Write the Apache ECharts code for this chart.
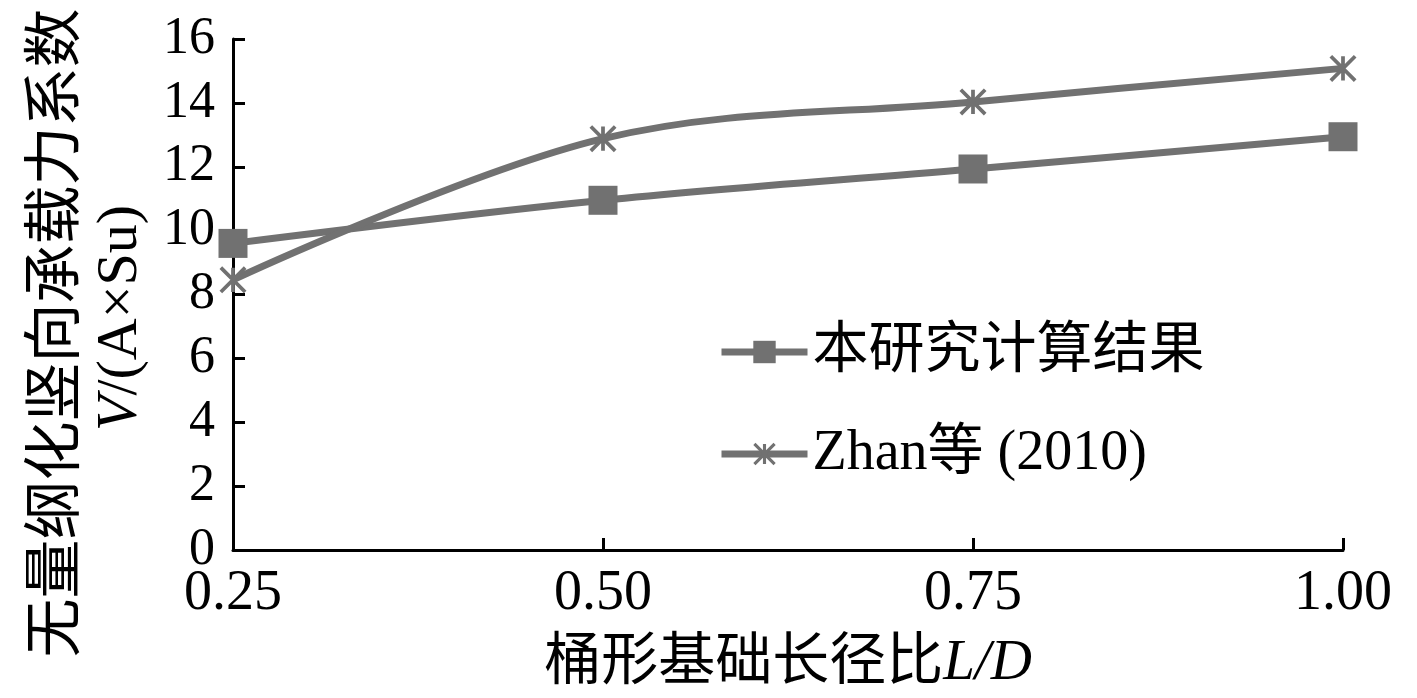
<!DOCTYPE html>
<html>
<head>
<meta charset="utf-8">
<script src="https://cdn.jsdelivr.net/npm/echarts@6/dist/echarts.min.js"></script>
<style>
html, body { margin: 0; padding: 0; background: #fff; }
#main { width: 1417px; height: 698px; }
</style>
</head>
<body>
<div id="main"></div>
<script>
// L/D 取值
var ratioLD = [0.25, 0.50, 0.75, 1.00];
// 本研究计算结果
var oursValues = [9.6, 10.95, 11.93, 12.94];
// Zhan等 (2010)
var zhanValues = [8.46, 12.88, 14.03, 15.08];
var seriesNames = ['本研究计算结果', 'Zhan等 (2010)'];
var yTicks = [0, 2, 4, 6, 8, 10, 12, 14, 16];

var serif = '"Liberation Serif", "Times New Roman", "Noto Sans CJK SC", serif';
var gray = '#717171';

function pairs(vals) {
	return vals.map(function(v, i) {
		return [ratioLD[i], v];
	});
}

// 星号标记: 竖线 + X, 用填充的细长矩形拼出
var starPath = 'path://M-2,-13L2,-13L2,13L-2,13Z' +
	'M-11.586,-14.414L14.414,11.586L11.586,14.414L-14.414,-11.586Z' +
	'M-14.414,11.586L11.586,-14.414L14.414,-11.586L-11.586,14.414Z';

var option = {
	animation: false,
	backgroundColor: '#fff',
	grid: {
		left: 233,
		right: 74,
		top: 39,
		bottom: 144
	},
	legend: {
		orient: 'vertical',
		left: 713,
		top: 316,
		itemWidth: 86,
		itemHeight: 28,
		itemGap: 40,
		lineStyle: { width: 7 },
		textStyle: {
			fontFamily: serif,
			fontSize: 56,
			lineHeight: 62,
			color: '#000'
		},
		data: seriesNames
	},
	xAxis: {
		type: 'value',
		min: 0.25,
		max: 1.0,
		interval: 0.25,
		name: '{a|桶形基础长径比}{b|L/D}',
		nameLocation: 'middle',
		nameGap: 86,
		nameTextStyle: {
			rich: {
				a: { fontFamily: serif, fontSize: 57, color: '#000' },
				b: { fontFamily: serif, fontSize: 57, fontStyle: 'italic', color: '#000' }
			}
		},
		axisLine: { lineStyle: { color: '#000', width: 3 } },
		axisTick: { inside: true, length: 12, lineStyle: { color: '#000', width: 3 } },
		axisLabel: {
			margin: 16,
			fontFamily: serif,
			fontSize: 56,
			color: '#000',
			formatter: function(v) { return v.toFixed(2); }
		},
		splitLine: { show: false }
	},
	yAxis: {
		type: 'value',
		min: yTicks[0],
		max: yTicks[yTicks.length - 1],
		interval: 2,
		axisLine: { show: true, lineStyle: { color: '#000', width: 3 } },
		axisTick: { show: true, inside: true, length: 12, lineStyle: { color: '#000', width: 3 } },
		axisLabel: {
			margin: 18,
			fontFamily: serif,
			fontSize: 52,
			color: '#000'
		},
		splitLine: { show: false }
	},
	graphic: [{
		type: 'text',
		x: 52,
		y: 333,
		rotation: Math.PI / 2,
		style: {
			text: '无量纲化竖向承载力系数',
			font: '59px "Noto Sans CJK SC", serif',
			fill: '#000',
			align: 'center',
			verticalAlign: 'middle'
		}
	}, {
		type: 'text',
		x: 121,
		y: 318,
		rotation: Math.PI / 2,
		style: {
			text: '{v|V}{r|/(A×Su)}',
			fill: '#000',
			align: 'center',
			verticalAlign: 'middle',
			rich: {
				v: { fontFamily: serif, fontSize: 58, fontStyle: 'italic', fill: '#000' },
				r: { fontFamily: serif, fontSize: 58, fill: '#000' }
			}
		}
	}],
	series: [{
		name: seriesNames[0],
		type: 'line',
		smooth: 0.35,
		clip: false,
		symbol: 'rect',
		symbolSize: 29,
		lineStyle: { color: gray, width: 7 },
		itemStyle: { color: gray },
		data: pairs(oursValues)
	}, {
		name: seriesNames[1],
		type: 'line',
		smooth: 0.35,
		clip: false,
		symbol: starPath,
		symbolSize: 27,
		lineStyle: { color: gray, width: 7 },
		itemStyle: { color: gray },
		data: pairs(zhanValues)
	}]
};

var myChart = echarts.init(document.getElementById('main'));
myChart.setOption(option);
</script>
</body>
</html>
